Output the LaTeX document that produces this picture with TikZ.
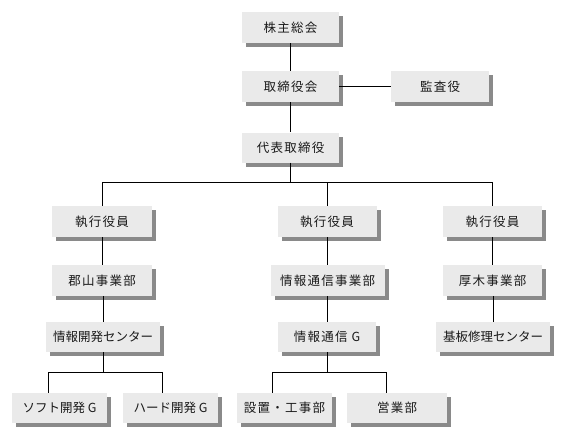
\documentclass[tikz,border=0pt]{standalone}
\usepackage{fontspec}
\newfontfamily\jpfont{Noto Sans CJK JP}[LetterSpace=10]
\newfontfamily\jpfonttight{Noto Sans CJK JP}[LetterSpace=0]
\usetikzlibrary{shadows}
\definecolor{boxgray}{HTML}{EAEAEA}
\definecolor{shadowgray}{HTML}{8A8A8A}
\definecolor{txt}{HTML}{1A1A1A}
\tikzset{
  orgbox/.style={fill=boxgray, draw=none, inner sep=0pt, text=txt,
    font=\jpfont\fontsize{12.5}{14}\selectfont,
    drop shadow={shadow xshift=4pt, shadow yshift=-4pt, fill=shadowgray, opacity=1}},
  tighttext/.style={font=\jpfonttight\fontsize{12.5}{14}\selectfont},
  conn/.style={draw=black, line width=1pt}
}
\begin{document}
\begin{tikzpicture}[x=1pt,y=-1pt]
\useasboundingbox[fill=white] (0,0) rectangle (565,439);
% top column
\node[orgbox, minimum width=97pt, minimum height=31pt] (a) at (290.5,27.5) {株主総会};
\node[orgbox, minimum width=97pt, minimum height=31pt] (b) at (290.5,86.5) {取締役会};
\node[orgbox, minimum width=98pt, minimum height=31pt] (c) at (440,86.5) {監査役};
\node[orgbox, minimum width=97pt, minimum height=30pt] (d) at (290.5,147.5) {代表取締役};
% executive row
\node[orgbox, minimum width=100pt, minimum height=31pt] (e1) at (102,221.5) {執行役員};
\node[orgbox, minimum width=99pt, minimum height=31pt] (e2) at (327,221.5) {執行役員};
\node[orgbox, minimum width=99pt, minimum height=31pt] (e3) at (492.5,221.5) {執行役員};
% divisions
\node[orgbox, minimum width=100pt, minimum height=31pt] (f1) at (102,280.5) {郡山事業部};
\node[orgbox, minimum width=114pt, minimum height=31pt] (f2) at (327.5,280.5) {情報通信事業部};
\node[orgbox, minimum width=99pt, minimum height=31pt] (f3) at (492.5,280.5) {厚木事業部};
% centers / groups
\node[orgbox, tighttext, minimum width=114pt, minimum height=30pt] (g1) at (103,337) {情報開発センター};
\node[orgbox, minimum width=98pt, minimum height=30pt] (g2) at (327,337) {情報通信 G};
\node[orgbox, tighttext, minimum width=114pt, minimum height=30pt] (g3) at (493,337) {基板修理センター};
% bottom row
\node[orgbox, tighttext, minimum width=95pt, minimum height=30pt] (h1) at (59.5,408) {ソフト開発 G};
\node[orgbox, tighttext, minimum width=95pt, minimum height=30pt] (h2) at (170.5,408) {ハード開発 G};
\node[orgbox, minimum width=95pt, minimum height=30pt] (h3) at (284.5,408) {設置・工事部};
\node[orgbox, minimum width=100pt, minimum height=30pt] (h4) at (397,408) {営業部};
% bus coordinates
\coordinate (bus1) at (290.5,182);
\coordinate (bus2) at (103,372);
\coordinate (bus3) at (327,372);
\coordinate (h1t) at ([xshift=-11.5pt]h1.north);
\coordinate (h2t) at ([xshift=-8.5pt]h2.north);
\coordinate (h3t) at ([xshift=-12.5pt]h3.north);
\coordinate (h4t) at ([xshift=-11pt]h4.north);
% connectors
\draw[conn] (a.south) -- (b.north);
\draw[conn] (b.east) -- (c.west);
\draw[conn] (b.south) -- (d.north);
\draw[conn] (d.south) -- (bus1);
\draw[conn] (e1.north) -- (e1.north |- bus1) -- (e3.north |- bus1) -- (e3.north);
\draw[conn] (e2.north) -- (e2.north |- bus1);
\draw[conn] (e1.south) -- (f1.north);
\draw[conn] (e2.south) -- (f2.north -| e2.south);
\draw[conn] (e3.south) -- (f3.north);
\draw[conn] (f1.south -| g1.north) -- (g1.north);
\draw[conn] (f2.south -| g2.north) -- (g2.north);
\draw[conn] (f3.south -| g3.north) -- (g3.north);
\draw[conn] (g1.south) -- (bus2);
\draw[conn] (h1t) -- (h1t |- bus2) -- (h2t |- bus2) -- (h2t);
\draw[conn] (g2.south) -- (bus3);
\draw[conn] (h3t) -- (h3t |- bus3) -- (h4t |- bus3) -- (h4t);
\end{tikzpicture}
\end{document}
